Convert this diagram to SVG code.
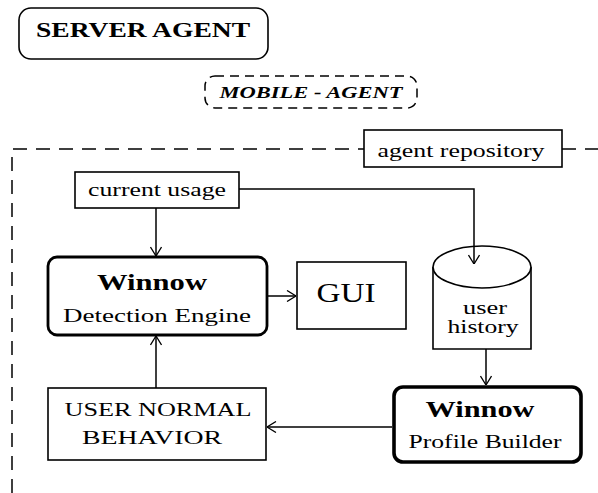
<svg xmlns="http://www.w3.org/2000/svg" width="598" height="493" viewBox="0 0 598 493">
  <defs>
    <marker id="open" viewBox="0 0 10 12" refX="10" refY="6" markerWidth="10" markerHeight="12" markerUnits="userSpaceOnUse" orient="auto">
      <path d="M1,0.5 L10,6 L1,11.5" fill="none" stroke="#000" stroke-width="1.3"/>
    </marker>
    <style>
      .box { fill: #fff; stroke: #000; stroke-width: 1.6; }
      .thick { fill: #fff; stroke: #000; stroke-width: 2.8; }
      .thicker { fill: #fff; stroke: #000; stroke-width: 3.6; }
      .dash { fill: none; stroke: #000; stroke-width: 1.5; stroke-dasharray: 14 9; }
      .edge { fill: none; stroke: #000; stroke-width: 1.5; }
      .t { font-family: "Liberation Serif", "DejaVu Serif", serif; fill: #000; text-anchor: middle; }
      .b { font-weight: bold; }
    </style>
  </defs>

  <rect width="598" height="493" fill="#fff"/>

  <!-- dashed repository frame -->
  <g id="repository-frame">
    <path class="dash" d="M12,493 L12,149 L364,149"/>
    <path class="dash" d="M562,149 L598,149"/>
  </g>

  <g id="server-agent">
    <rect class="box" x="19" y="8" width="249" height="51" rx="12"/>
    <text class="t b" x="143" y="37" font-size="20" textLength="214" lengthAdjust="spacingAndGlyphs">SERVER AGENT</text>
  </g>

  <g id="mobile-agent">
    <rect class="dash" x="205" y="76" width="212" height="32" rx="10" style="stroke-dasharray:9 6"/>
    <text class="t b" x="311" y="98" font-size="16" font-style="italic" textLength="183" lengthAdjust="spacingAndGlyphs">MOBILE - AGENT</text>
  </g>

  <g id="agent-repository">
    <rect class="box" x="364" y="130" width="198" height="37"/>
    <text class="t" x="461" y="157" font-size="18" textLength="167" lengthAdjust="spacingAndGlyphs">agent repository</text>
  </g>

  <g id="current-usage">
    <rect class="box" x="75" y="172" width="164" height="36"/>
    <text class="t" x="157" y="196" font-size="18" textLength="138" lengthAdjust="spacingAndGlyphs">current usage</text>
  </g>

  <g id="detection-engine">
    <rect class="thick" x="48" y="257" width="219" height="78" rx="9"/>
    <text class="t b" x="152" y="290" font-size="23" textLength="110" lengthAdjust="spacingAndGlyphs">Winnow</text>
    <text class="t" x="157" y="322" font-size="19" textLength="188" lengthAdjust="spacingAndGlyphs">Detection Engine</text>
  </g>

  <g id="gui">
    <rect class="box" x="297" y="262" width="109" height="67"/>
    <text class="t" x="346" y="302" font-size="27" textLength="59" lengthAdjust="spacingAndGlyphs">GUI</text>
  </g>

  <g id="user-history">
    <path class="box" d="M433,267 L433,349 L531,349 L531,267"/>
    <ellipse class="box" cx="482" cy="267" rx="49" ry="21" style="stroke-dasharray:none"/>
    <text class="t" x="485" y="314" font-size="18" textLength="44" lengthAdjust="spacingAndGlyphs">user</text>
    <text class="t" x="483" y="333" font-size="18" textLength="71" lengthAdjust="spacingAndGlyphs">history</text>
  </g>

  <g id="user-normal-behavior">
    <rect class="box" x="48" y="388" width="218" height="72"/>
    <text class="t" x="158" y="416" font-size="19" textLength="187" lengthAdjust="spacingAndGlyphs">USER NORMAL</text>
    <text class="t" x="152" y="444" font-size="19" textLength="140" lengthAdjust="spacingAndGlyphs">BEHAVIOR</text>
  </g>

  <g id="profile-builder">
    <rect class="thicker" x="394" y="387" width="187" height="75" rx="9"/>
    <text class="t b" x="480" y="417" font-size="23" textLength="109" lengthAdjust="spacingAndGlyphs">Winnow</text>
    <text class="t" x="485" y="448" font-size="19" textLength="153" lengthAdjust="spacingAndGlyphs">Profile Builder</text>
  </g>

  <!-- connectors -->
  <g id="connectors">
    <path class="edge" d="M156,208 L156,256" marker-end="url(#open)"/>
    <path class="edge" d="M239,189 L474,189 L474,264" marker-end="url(#open)"/>
    <path class="edge" d="M267,296 L296,296" marker-end="url(#open)"/>
    <path class="edge" d="M156,388 L156,336" marker-end="url(#open)"/>
    <path class="edge" d="M486,349 L486,385" marker-end="url(#open)"/>
    <path class="edge" d="M392,427 L267,427" marker-end="url(#open)"/>
  </g>
</svg>
